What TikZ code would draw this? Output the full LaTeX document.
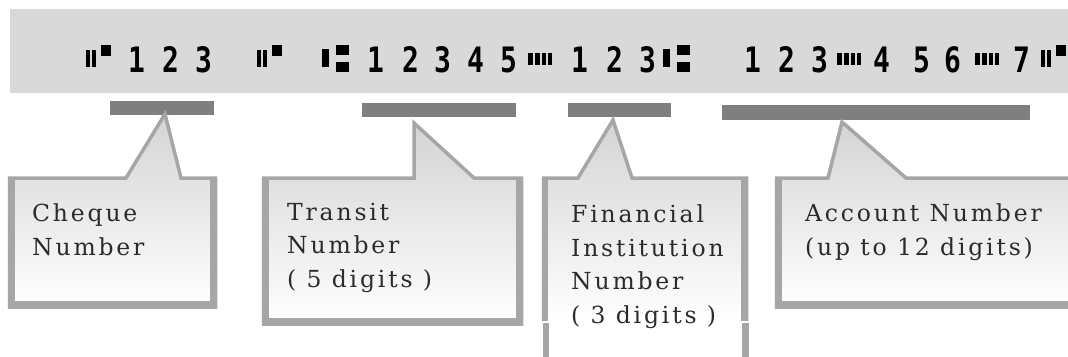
\documentclass[tikz,border=0pt]{standalone}
\usepackage{fontspec}
\setmainfont{DejaVu Serif}
\newfontfamily\lblfont{DejaVu Serif}[LetterSpace=12]
\newfontfamily\micrdigits{DejaVu Sans Mono Bold}[FakeStretch=0.8]
\definecolor{bandgray}{HTML}{D9D9D9}
\definecolor{bargray}{HTML}{7F7F7F}
\definecolor{bordergray}{HTML}{A6A6A6}
\definecolor{txtgray}{HTML}{2B2B2B}
\tikzset{
  micrdig/.style={font=\micrdigits\fontsize{35}{35}\selectfont, text=black, inner sep=0pt, anchor=base west},
  barbox/.style={fill=bargray, draw=none, inner sep=0pt},
  callout/.style={draw=bordergray, line width=3.5pt, top color=black!17, bottom color=white, line join=miter},
  calloutedge/.style={draw=bordergray, line width=3.5pt, line join=miter},
  thickedge/.style={fill=bordergray},
  lbl/.style={font=\lblfont\fontsize{23.5}{33.5}\selectfont, text=txtgray, align=left, inner sep=0pt, anchor=base west},
  onussym/.pic={
    \fill[black] (0,50) rectangle (3.5,67);
    \fill[black] (6,50) rectangle (9.5,67);
    \fill[black] (15,45) rectangle (25,56);
  },
  transitsym/.pic={
    \fill[black] (0,49) rectangle (7,67);
    \fill[black] (14,45) rectangle (27,55);
    \fill[black] (14,62) rectangle (27,72);
  },
  dashsym/.pic={
    \fill[black] (0,53) rectangle (5,65);
    \fill[black] (7,53) rectangle (12,65);
    \fill[black] (14,53) rectangle (18,65);
    \fill[black] (20,53) rectangle (24,65);
  }
}
\begin{document}
\begin{tikzpicture}[x=1pt,y=-1pt]
\useasboundingbox (0,0) rectangle (1068,356);
\clip (0,0) rectangle (1068,356);
\fill[white] (0,0) rectangle (1068,356);
% MICR band
\fill[bandgray] (10,9) rectangle (1080,93);
\foreach \x/\c [count=\i] in {128/1,162/2,195/3,367/1,402/2,434/3,467/4,500/5,571/1,606/2,639/3,744/1,778/2,811/3,873/4,913/5,944/6,1013/7}
  \node[micrdig] (d\i) at (\x,72) {\c};
% MICR symbols (on-us, transit, dash) drawn as shapes
\foreach \x in {86,257,1041}
  \pic at (\x,0) {onussym};
\foreach \x in {322,663}
  \pic at (\x,0) {transitsym};
\foreach \x in {528,837,975}
  \pic at (\x,0) {dashsym};
% bars
\node[barbox, minimum width=104pt, minimum height=14pt] (b1) at (162,108) {};
\node[barbox, minimum width=154pt, minimum height=14pt] (b2) at (439,110) {};
\node[barbox, minimum width=103pt, minimum height=14pt] (b3) at (619.5,110) {};
\node[barbox, minimum width=308pt, minimum height=15pt] (b4) at (876,112.5) {};
% callout 1
\path[callout] (9.5,178) -- (126,178) -- (165,114) -- (181,178) -- (215.5,178) -- (215.5,307) -- (9.5,307) -- cycle;
\fill[thickedge] (8,177) rectangle (15,309);
\fill[thickedge] (210,177) rectangle (217,309);
\fill[thickedge] (8,301) rectangle (217,309);
% callout 2
\path[callout] (263.5,178) -- (414,178) -- (414,123) -- (474,178) -- (521.5,178) -- (521.5,324) -- (263.5,324) -- cycle;
\fill[thickedge] (262,177) rectangle (269,326);
\fill[thickedge] (516,177) rectangle (523,326);
\fill[thickedge] (262,318) rectangle (523,326);
% callout 3
\path[top color=black!17, bottom color=white] (543.5,178) -- (578,178) -- (613,120) -- (632,178) -- (746.5,178) -- (746.5,321) -- (543.5,321) -- cycle;
\draw[calloutedge] (543.5,321) -- (543.5,178) -- (578,178) -- (613,120) -- (632,178) -- (746.5,178) -- (746.5,321);
\fill[thickedge] (542,177) rectangle (548,321);
\fill[thickedge] (741,177) rectangle (748,321);
\fill[white] (542,323) rectangle (749,360);
\fill[thickedge] (543,323) rectangle (549,360);
\fill[thickedge] (742,323) rectangle (749,360);
% callout 4
\path[callout] (776.5,178) -- (828,178) -- (842,122) -- (906,178) -- (1090,178) -- (1090,307) -- (776.5,307) -- cycle;
\fill[thickedge] (775,177) rectangle (782,309);
\fill[thickedge] (775,301) rectangle (1090,309);
% labels (anchored at the baseline of their last line)
\node[lbl] (t1) at (32,255) {Cheque\\Number};
\node[lbl] (t2) at (287,287) {Transit\\Number\\( 5 digits )};
\node[lbl] (t3) at (571,323) {Financial\\Institution\\Number\\( 3 digits )};
\node[lbl] (t4) at (805,255) {Account Number\\(up to 12 digits)};
\end{tikzpicture}
\end{document}
